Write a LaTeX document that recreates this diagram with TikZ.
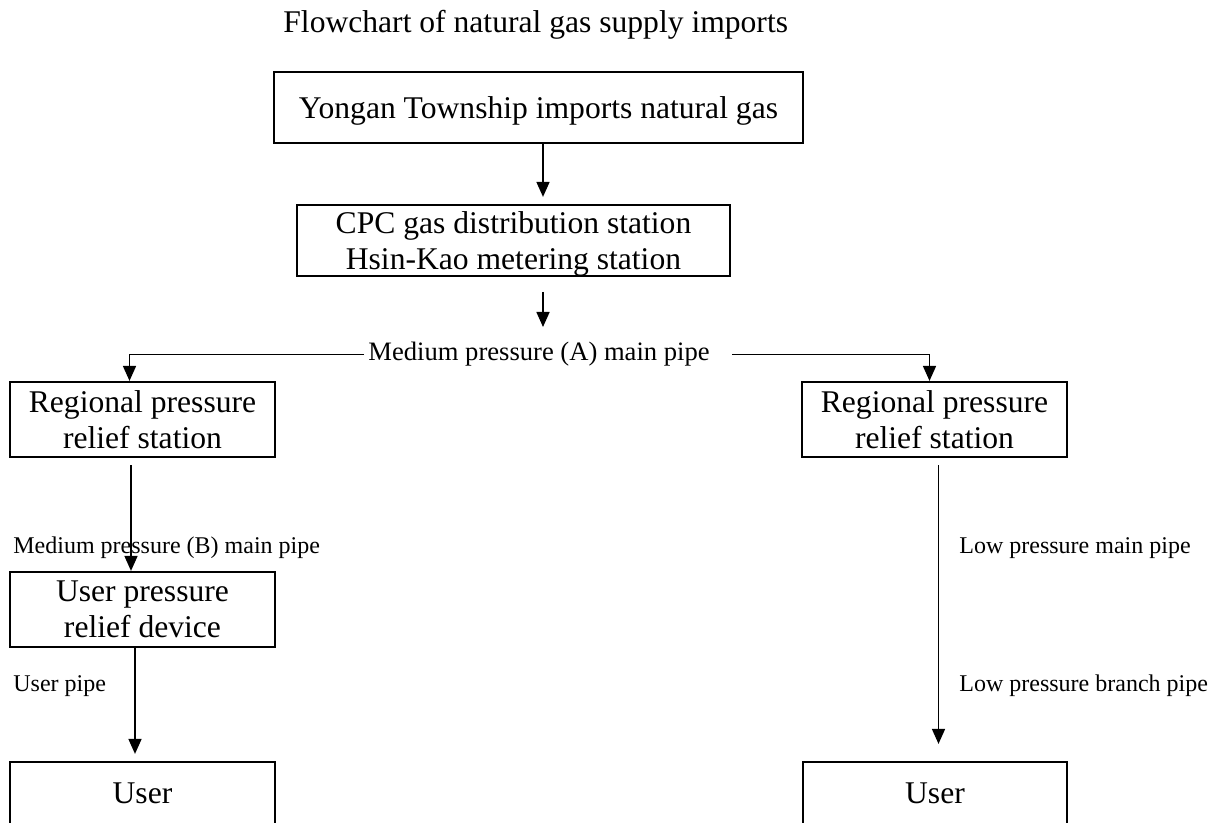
\documentclass[tikz,border=0pt]{standalone}
\usepackage{fontspec}
\setmainfont{Liberation Serif}
\usepackage{tikz}
\usetikzlibrary{arrows.meta}

\begin{document}
\begin{tikzpicture}[x=0.5pt, y=-0.5pt,
  box/.style={draw, line width=1.1pt, align=center, inner sep=0pt, text depth=0pt,
    font=\fontsize{15.8}{18}\selectfont},
  lbl/.style={inner sep=0pt, anchor=base west, font=\fontsize{12}{14}\selectfont},
  arr/.style={line width=0.8pt, -{Triangle[width=6.5pt, length=7.5pt]}}]
  \useasboundingbox (0,0) rectangle (1220,823);
  \clip (0,0) rectangle (1220,823);
  \node (title) [lbl, font=\fontsize{15.8}{18}\selectfont] at (283, 33) {Flowchart of natural gas supply imports};
  \node (yongan) [box, minimum width=264.5pt, minimum height=35.5pt] at (538.5, 107.5) {Yongan Township imports natural gas};
  \node (cpc) [box, minimum width=216.5pt, minimum height=35.5pt] at (513.5, 240.5) {CPC gas distribution station\\Hsin-Kao metering station};
  \node (pipeA) [lbl, font=\fontsize{13.3}{15}\selectfont] at (368, 361) {Medium pressure (A) main pipe};
  \node (regL) [box, minimum width=132.5pt, minimum height=37.5pt] at (142.5, 419.5) {Regional pressure\\relief station};
  \node (regR) [box, minimum width=132.5pt, minimum height=37.5pt] at (934.5, 419.5) {Regional pressure\\relief station};
  \node (pipeB) [lbl] at (13, 553) {Medium pressure (B) main pipe};
  \node (lowmain) [lbl] at (959, 553) {Low pressure main pipe};
  \node (uprd) [box, minimum width=132.5pt, minimum height=37.5pt] at (142.5, 609.5) {User pressure\\relief device};
  \node (userpipe) [lbl] at (13, 691) {User pipe};
  \node (lowbranch) [lbl] at (959, 691) {Low pressure branch pipe};
  \node (userL) [box, minimum width=132.5pt, minimum height=31.5pt] at (142.5, 793.5) {User};
  \node (userR) [box, minimum width=132pt, minimum height=31.5pt] at (935, 793.5) {User};
  \coordinate (trunk) at (543, 0);
  \coordinate (trunkA) at (543, 292);
  \coordinate (trunkB) at (543, 327);
  \coordinate (dropL) at (129.5, 0);
  \coordinate (dropR) at (929.5, 0);
  \coordinate (dropB) at (131, 0);
  \coordinate (dropC) at (135, 0);
  \coordinate (dropD) at (938.5, 0);
  \draw[arr] (yongan.south -| trunk) -- ([yshift=3.5pt]cpc.north -| trunk);
  \draw[arr] (trunkA) -- (trunkB);
  \draw[arr] ([xshift=-2pt]pipeA.west) -| (regL.north -| dropL);
  \draw[arr] ([xshift=11pt]pipeA.east) -| (regR.north -| dropR);
  \draw[arr] ([yshift=-3.5pt]regL.south -| dropB) -- (uprd.north -| dropB);
  \draw[arr] (uprd.south -| dropC) -- ([yshift=3.5pt]userL.north -| dropC);
  \draw[arr] ([yshift=-3.5pt]regR.south -| dropD) -- ([yshift=8.5pt]userR.north -| dropD);
\end{tikzpicture}
\end{document}
